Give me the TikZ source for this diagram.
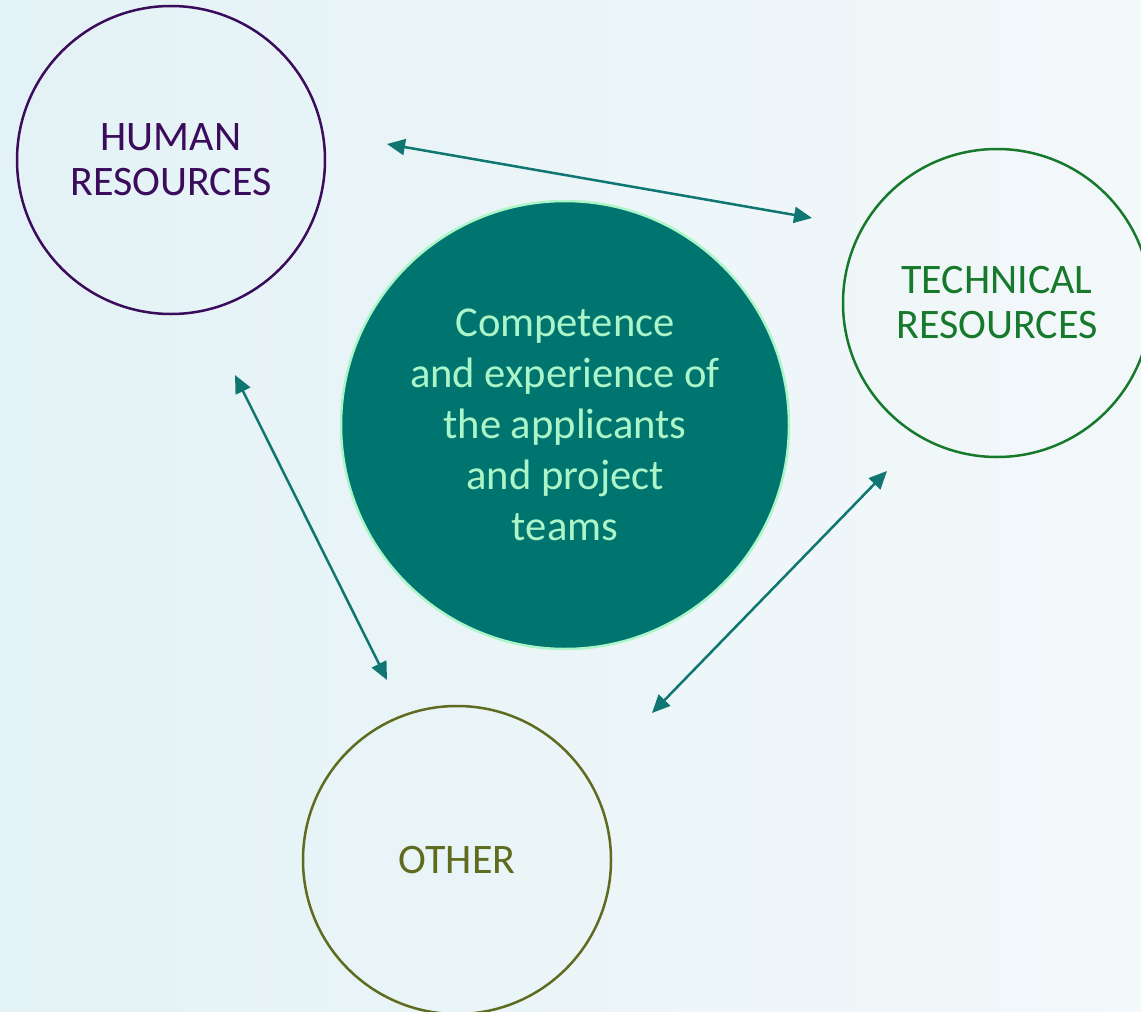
\documentclass[tikz,border=0pt]{standalone}
\usepackage{xcolor}
\usepackage{fontspec}
\setmainfont{Carlito}
\usepackage{tikz}
\usetikzlibrary{arrows.meta}

\definecolor{bgleft}{HTML}{E3F2F6}
\definecolor{bgright}{HTML}{F3F8FA}
\definecolor{hrpurple}{HTML}{3B0C5C}
\definecolor{techgreen}{HTML}{17792B}
\definecolor{otherolive}{HTML}{5F6B1F}
\definecolor{coreteal}{HTML}{00756F}
\definecolor{coremint}{HTML}{ABF5C8}
\definecolor{linkteal}{HTML}{0F7672}

\begin{document}
\begin{tikzpicture}[
  x=1pt, y=-1pt,                            % one unit = one pixel of the layout
  font=\fontsize{42}{45}\selectfont,
  resource/.style = {circle,
                     draw,
                     line width=2.5pt,
                     minimum size=308pt,
                     inner sep=0pt,
                     align=center},
  core/.style     = {circle,
                     draw=coremint,
                     fill=coreteal,
                     text=coremint,
                     line width=2.5pt,
                     minimum size=448pt,
                     inner sep=0pt,
                     align=center,
                     font=\fontsize{42.6}{51}\selectfont},
  link/.style     = {{Triangle[length=18pt,width=16pt]}-{Triangle[length=18pt,width=16pt]},
                     line width=2.5pt,
                     draw=linkteal}
]

\useasboundingbox (0,0) rectangle (1141,1012);
\clip (0,0) rectangle (1141,1012);
\shade[left color=bgleft, right color=bgright] (0,0) rectangle (1141,1012);

\node[resource, draw=hrpurple, text=hrpurple]      (hr)    at (171,160) {HUMAN\\RESOURCES};
\node[resource, draw=techgreen, text=techgreen]    (tech)  at (997,303) {TECHNICAL\\RESOURCES};
\node[resource, draw=otherolive, text=otherolive]  (other) at (457,860) {OTHER};

\node[core] (comp) at (565,425) {Competence\\and experience of\\the applicants\\and project\\teams};

% free ends of the links
\coordinate (hr-tech)    at (387,144);
\coordinate (tech-hr)    at (812,218);
\coordinate (hr-other)   at (235,375);
\coordinate (other-hr)   at (387,680);
\coordinate (tech-other) at (887,471);
\coordinate (other-tech) at (652,713);

\draw[link] (hr-tech)    -- (tech-hr);
\draw[link] (hr-other)   -- (other-hr);
\draw[link] (tech-other) -- (other-tech);

\end{tikzpicture}
\end{document}
